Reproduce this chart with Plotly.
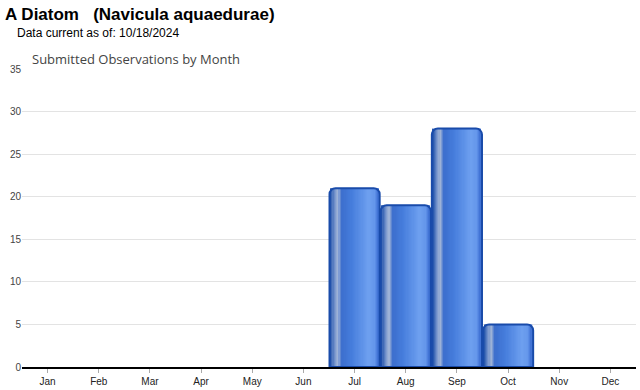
import plotly.graph_objects as go

months = ["Jan", "Feb", "Mar", "Apr", "May", "Jun", "Jul", "Aug", "Sep", "Oct", "Nov", "Dec"]
observations = [0, 0, 0, 0, 0, 0, 21, 19, 28, 5, 0, 0]
y_ticks = [0, 5, 10, 15, 20, 25, 30, 35]

BAR_W = 0.98
shown = [v if v > 0 else None for v in observations]

def lerp(c1, c2, t):
    return tuple(round(a + (b - a) * t) for a, b in zip(c1, c2))

stops = [
    (0.00, (30, 80, 170)),
    (0.10, (120, 150, 205)),
    (0.16, (160, 180, 215)),
    (0.24, (60, 110, 205)),
    (0.45, (70, 125, 220)),
    (0.80, (110, 160, 240)),
    (0.92, (100, 150, 235)),
    (1.00, (60, 110, 210)),
]

def grad(t):
    for (t0, c0), (t1, c1) in zip(stops, stops[1:]):
        if t0 <= t <= t1:
            return "rgb(%d,%d,%d)" % lerp(c0, c1, (t - t0) / (t1 - t0) if t1 > t0 else 0)
    return "rgb(%d,%d,%d)" % stops[-1][1]

fig = go.Figure()

fig.add_trace(go.Bar(x=months, y=shown, width=BAR_W,
                     marker=dict(color="rgb(70,125,220)", line=dict(width=0), cornerradius=6),
                     hoverinfo="skip", showlegend=False))

n = 40
inner_l, inner_r = -BAR_W / 2 + 0.02, BAR_W / 2 - 0.02
sw = (inner_r - inner_l) / n
for i in range(n):
    t = (i + 0.5) / n
    fig.add_trace(go.Bar(x=months, y=shown, width=sw * 1.05,
                         offset=inner_l + i * sw,
                         marker=dict(color=grad(t), line=dict(width=0)),
                         hoverinfo="skip", showlegend=False))

fig.add_trace(go.Bar(x=months, y=shown, width=BAR_W,
                     marker=dict(color="rgba(0,0,0,0)",
                                 line=dict(width=2, color="rgb(25,75,170)"),
                                 cornerradius=6),
                     showlegend=False, name="Observations"))

fig.update_layout(
    width=640, height=390,
    barmode="overlay", bargap=0.02,
    plot_bgcolor="white", paper_bgcolor="white",
    margin=dict(l=22, r=4, t=69, b=23),
    font=dict(family="Arial, Liberation Sans, sans-serif", color="#444", size=10),
    xaxis=dict(type="category", categoryorder="array", categoryarray=months,
               showline=True, linecolor="black", linewidth=1.5,
               ticks="outside", ticklen=4, tickcolor="#aaa",
               showgrid=False, tickfont=dict(size=10, color="#222")),
    yaxis=dict(range=[0, 35], tickvals=y_ticks, showgrid=True, gridcolor="#e3e3e3",
               zeroline=False, showline=False, ticks="", tickfont=dict(size=10, color="#444")),
    annotations=[
        dict(text="<b>A Diatom   (Navicula aquaedurae)</b>", xref="paper", yref="paper",
             x=0, y=1, xanchor="left", yanchor="top", showarrow=False,
             font=dict(size=17, color="black", family="Arial, Liberation Sans"),
             xshift=-19, yshift=66),
        dict(text="Data current as of: 10/18/2024", xref="paper", yref="paper",
             x=0, y=1, xanchor="left", yanchor="top", showarrow=False,
             font=dict(size=12, color="black", family="Arial, Liberation Sans"),
             xshift=-7, yshift=45),
        dict(text="Submitted Observations by Month", xref="paper", yref="paper",
             x=0, y=1, xanchor="left", yanchor="top", showarrow=False,
             font=dict(size=13, color="#444", family="Open Sans, Arial"),
             xshift=8, yshift=21),
    ],
)

fig.write_html("out.html")
